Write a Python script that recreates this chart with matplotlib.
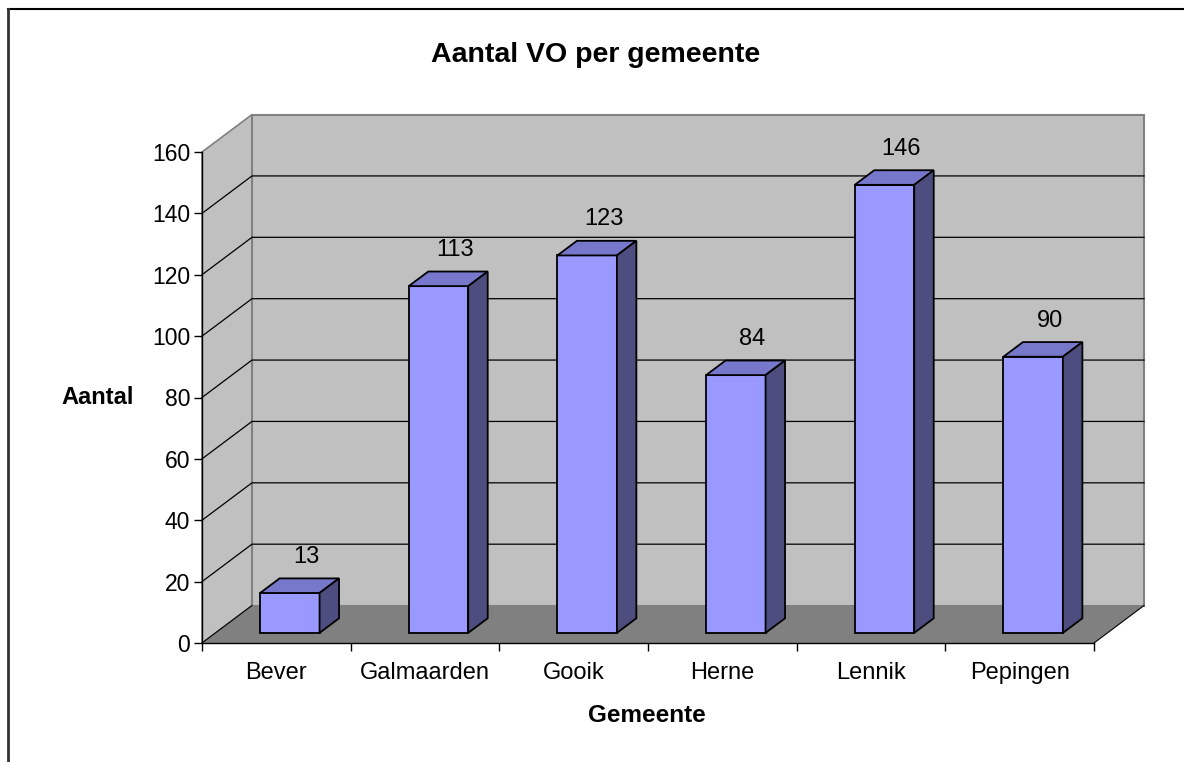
import matplotlib.pyplot as plt
from matplotlib.patches import Polygon
from matplotlib.lines import Line2D

plt.rcParams['font.family'] = ['Liberation Sans', 'DejaVu Sans']

# data
gemeenten = ['Bever', 'Galmaarden', 'Gooik', 'Herne', 'Lennik', 'Pepingen']
aantal = [13, 113, 123, 84, 146, 90]
yticks = [0, 20, 40, 60, 80, 100, 120, 140, 160]

# 3d look (offsets in data units)
DX = 0.336      # depth shift in categories
DY = 12.2       # depth shift in value units
F0, F1 = 0.27, 0.66   # bar depth, front and back
BW = 0.4              # bar width

wall = '#c0c0c0'
floor = '#808080'
edge = '#808080'
front_c = '#9999ff'
top_c = '#7777cc'
side_c = '#4d4d80'

fig = plt.figure(figsize=(11.84, 7.62), dpi=100)
ax = fig.add_axes([202/1184, (762-643)/762, (1094-202)/1184, (643-152)/762])
ax.set_xlim(0, len(gemeenten))
ax.set_ylim(0, 160)
ax.patch.set_visible(False)

n = len(gemeenten)
ymax = 160

# walls
left_wall = Polygon([(0, 0), (DX, DY), (DX, ymax + DY), (0, ymax)],
                    closed=True, fc=wall, ec=edge, lw=1.2, clip_on=False, zorder=0)
back_wall = Polygon([(DX, DY), (n + DX, DY), (n + DX, ymax + DY), (DX, ymax + DY)],
                    closed=True, fc=wall, ec=edge, lw=1.5, clip_on=False, zorder=0)
ax.add_patch(left_wall)
ax.add_patch(back_wall)

# gridlines on the walls
for v in yticks[1:-1]:
    ax.plot([0, DX, n + DX], [v, v + DY, v + DY], color='black', lw=0.9,
            clip_on=False, zorder=1)

# floor
fl = Polygon([(0, 0), (n, 0), (n + DX, DY), (DX, DY)], closed=True,
             fc=floor, ec='none', clip_on=False, zorder=2)
ax.add_patch(fl)
ax.plot([0, DX], [0, DY], color='black', lw=0.8, clip_on=False, zorder=2)
ax.plot([n, n + DX], [0, DY], color='black', lw=0.8, clip_on=False, zorder=2)

# bars
for i, v in enumerate(aantal):
    x0 = i + (1 - BW) / 2 + F0 * DX
    x1 = x0 + BW
    y0 = F0 * DY
    y1 = y0 + v
    ddx = (F1 - F0) * DX
    ddy = (F1 - F0) * DY
    front = Polygon([(x0, y0), (x1, y0), (x1, y1), (x0, y1)], closed=True,
                    fc=front_c, ec='black', lw=1.3, clip_on=False, zorder=4)
    top = Polygon([(x0, y1), (x1, y1), (x1 + ddx, y1 + ddy), (x0 + ddx, y1 + ddy)],
                  closed=True, fc=top_c, ec='black', lw=1.3, clip_on=False, zorder=4)
    side = Polygon([(x1, y0), (x1 + ddx, y0 + ddy), (x1 + ddx, y1 + ddy), (x1, y1)],
                   closed=True, fc=side_c, ec='black', lw=1.3, clip_on=False, zorder=4)
    ax.add_patch(front)
    ax.add_patch(top)
    ax.add_patch(side)
    ax.text(i + 0.5 + 0.6 * DX, v + F1 * DY + 7, str(v), ha='center', va='center',
            fontsize=17, zorder=5)

# axes
for s in ['top', 'right']:
    ax.spines[s].set_visible(False)
ax.spines['left'].set_linewidth(1.0)
ax.spines['bottom'].set_linewidth(1.0)
ax.spines['left'].set_zorder(3)
ax.spines['bottom'].set_zorder(3)

ax.set_yticks(yticks)
ax.tick_params(axis='y', direction='out', length=6, width=1, pad=2.5, labelsize=16.5)
ax.set_xticks(range(n + 1))
ax.set_xticklabels([''] * (n + 1))
ax.set_xticks([i + 0.5 for i in range(n)], minor=True)
ax.set_xticklabels(gemeenten, minor=True, fontsize=17)
ax.tick_params(axis='x', which='major', direction='out', length=5.5, width=1)
ax.tick_params(axis='x', which='minor', length=0, pad=13.5)

fig.text(596/1184, (762-61.7)/762, 'Aantal VO per gemeente', ha='center',
         va='baseline', fontsize=20.5, fontweight='bold')
fig.text(97.5/1184, (762-397)/762, 'Aantal', ha='center', va='center',
         fontsize=17, fontweight='bold')
fig.text(646.5/1184, (762-715)/762, 'Gemeente', ha='center', va='center',
         fontsize=17.5, fontweight='bold')

# outer frame
fig.add_artist(Line2D([8/1184, 1], [(762-9)/762, (762-9)/762], color='black', lw=1.5))
fig.add_artist(Line2D([8/1184, 8/1184], [0, (762-9)/762], color='#333333', lw=2))

fig.savefig('out.png', dpi=100)
